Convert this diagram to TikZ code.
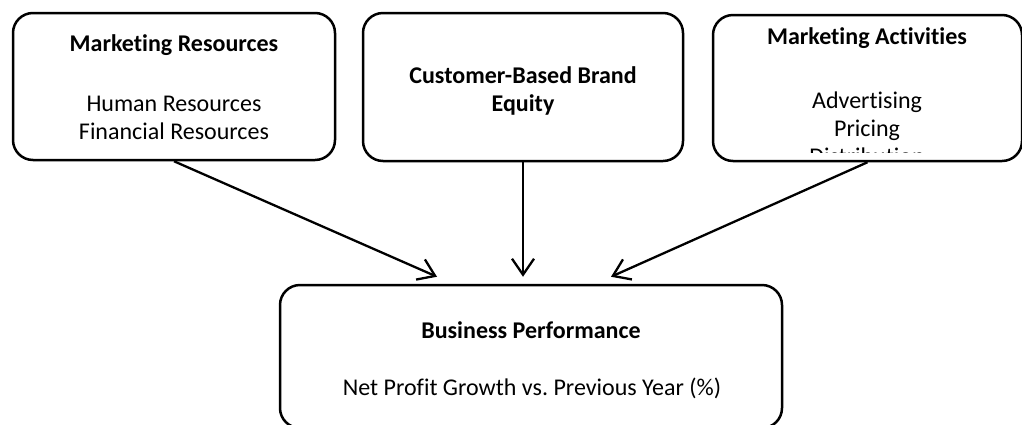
\documentclass[tikz,border=0pt]{standalone}
\usepackage{fontspec}
\setmainfont{Carlito}[Ligatures=NoCommon]
\usepackage{tikz}
\usetikzlibrary{arrows.meta,positioning}
\frenchspacing

\begin{document}
\begin{tikzpicture}[x=1pt,y=-1pt,
    box/.style={draw,line width=2.5pt,rounded corners=20pt,inner sep=0pt},
    head/.style={font=\fontsize{24}{28}\selectfont\bfseries,align=center},
    body/.style={font=\fontsize{24}{28}\selectfont,align=center},
    link/.style={line width=2.3pt,-{Straight Barb[length=16pt,width=22pt]}}]
  \useasboundingbox (0,0) rectangle (1022,424);

  % the three driver boxes
  \node[box,minimum width=322pt,minimum height=147pt] (res) at (174,86.5) {};
  \node[head] (resT) at (174,45) {Marketing Resources};
  \node[body] (resB) at (174,117.5) {Human Resources\\Financial Resources};

  \node[box,minimum width=320pt,minimum height=148pt] (cbbe) at (523,87) {};
  \node[head] (cbbeT) at (523,91) {Customer-Based Brand\\Equity};

  \node[box,minimum width=309pt,minimum height=146pt] (act) at (867.5,88) {};
  \node[head] (actT) at (867,38) {Marketing Activities};
  \begin{scope}
    \clip (713,15) rectangle (1021,152);
    \node[body] (actB) at (867,128) {Advertising\\Pricing\\Distribution};
  \end{scope}

  % outcome box
  \node[box,minimum width=502pt,minimum height=143pt] (perf) at (531,356.5) {};
  \node[head] (perfT) at (531,330) {Business Performance};
  \node[body] (perfB) at (532,388) {Net Profit Growth vs. Previous Year (\%)};

  \coordinate (inL) at ([shift={(-94,-7)}]perf.north);
  \coordinate (inM) at ([shift={(-9,-7)}]perf.north);
  \coordinate (inR) at ([shift={(80,-7)}]perf.north);

  \draw[link] (res.south) -- (inL);
  \draw[link] (cbbe.south) -- (cbbe.south |- inM);
  \draw[link] (act.south) -- (inR);
\end{tikzpicture}
\end{document}
